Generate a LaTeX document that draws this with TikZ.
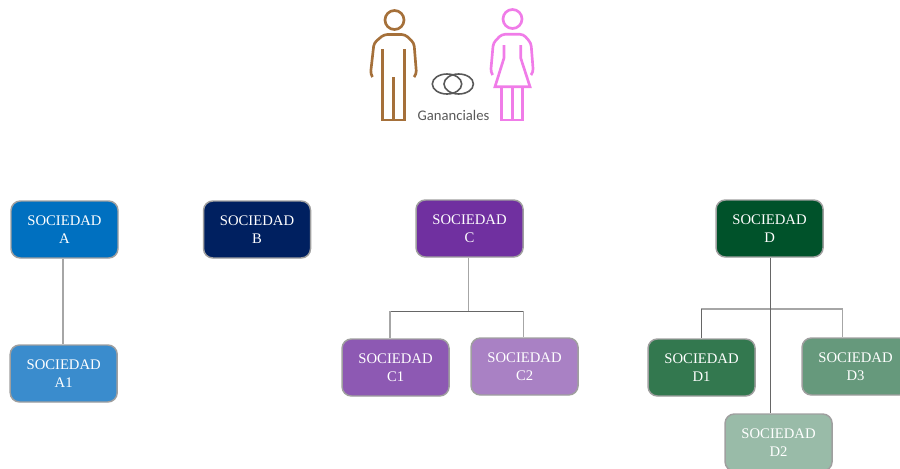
\documentclass[tikz,border=0pt]{standalone}
\usepackage{fontspec}
\setmainfont{Liberation Serif}
\newfontfamily\labelfont{Carlito}
\usepackage[dvipsnames]{xcolor}
\usetikzlibrary{positioning}

\definecolor{colA}{HTML}{0070C0}
\definecolor{colAa}{HTML}{3A8CCD}
\definecolor{colB}{HTML}{002060}
\definecolor{colC}{HTML}{7030A0}
\definecolor{colCa}{HTML}{8D59B3}
\definecolor{colCb}{HTML}{A981C4}
\definecolor{colD}{HTML}{00522A}
\definecolor{colDa}{HTML}{33784F}
\definecolor{colDb}{HTML}{99BBA8}
\definecolor{colDc}{HTML}{66997C}
\definecolor{brownman}{HTML}{A5703A}
\definecolor{pinkwoman}{HTML}{F07CE8}

\tikzset{
  soc/.style={draw=gray!75, line width=1.1pt, rounded corners=7pt, minimum width=80.25pt,
    minimum height=42.75pt, inner sep=0pt, align=center, text=white,
    font=\fontsize{11}{13.9}\selectfont},
  wire/.style={draw=gray!70, line width=.8pt},
  darkwire/.style={draw=black!60, line width=.7pt},
  man/.style={draw=brownman, line width=2pt, rounded corners=2.5pt},
  woman/.style={draw=pinkwoman, line width=2pt, rounded corners=2.5pt},
  rings/.style={draw=black!65, line width=1.2pt}
}

\begin{document}
\begin{tikzpicture}[x=.75pt, y=-.75pt]
        \useasboundingbox (0,0) rectangle (900,468);

        \node[soc, fill=colA] (A) at (64.5,229.5) {SOCIEDAD\\A};
        \node[soc, fill=colAa, below of=A, node distance=108pt, xshift=-.6pt] (A1) {SOCIEDAD\\A1};
        \node[soc, fill=colB, right of=A, node distance=144.4pt] (B) {SOCIEDAD\\B};
        \node[soc, fill=colC, right of=B, node distance=159.4pt, yshift=.75pt] (C) {SOCIEDAD\\C};
        \node[soc, fill=colCa, below of=C, node distance=104.25pt, xshift=-55.5pt] (C1) {SOCIEDAD\\C1};
        \node[soc, fill=colCb, right of=C1, node distance=96.75pt, yshift=.75pt] (C2) {SOCIEDAD\\C2};
        \node[soc, fill=colD, right of=C, node distance=225pt] (D) {SOCIEDAD\\D};
        \node[soc, fill=colDa, below of=D, node distance=104.25pt, xshift=-51pt] (D1) {SOCIEDAD\\D1};
        \node[soc, fill=colDc, right of=D1, node distance=115.5pt, yshift=.75pt] (D3) {SOCIEDAD\\D3};
        \node[soc, fill=colDb, below of=D, node distance=160.5pt, xshift=6.75pt] (D2) {SOCIEDAD\\D2};

        \coordinate (a) at (63,300);
        \coordinate (c) at (468.5,311);
        \coordinate (cl) at (390,311);
        \coordinate (cr) at (523.5,311);
        \coordinate (d) at (770.5,309);
        \coordinate (dl) at (701,309);
        \coordinate (dr) at (842.5,309);

        \draw[wire] (a |- A.south) -- (a |- A1.north);
        \draw[wire] (c |- C.south) -- (c);
        \draw[darkwire] (cl) -- (cr);
        \draw[wire] (cl) -- (cl |- C1.north);
        \draw[wire] (cr) -- (cr |- C2.north);
        \draw[wire] (dl) -- (dr);
        \draw[darkwire] (d |- D.south) -- (d |- D2.north);
        \draw[darkwire] (dl) -- (dl |- D1.north);
        \draw[wire] (dr) -- (dr |- D3.north);

        % figures
        \draw[man] (394.5,20) circle (9.5);
        \draw[man] (372.5,77) -- (370.5,74) -- (374,43) -- (384,34.5) -- (405,34.5) -- (414,43) -- (416.5,74) -- (414,77);
        \draw[man, rounded corners=0pt] (382.5,49) -- (382.5,120) -- (404.5,120) -- (404.5,49);
        \draw[man] (393.5,77) -- (393.5,120);

        \draw[woman] (512.5,19) circle (9.5);
        \draw[woman] (492.7,75) -- (490.7,72) -- (493.3,43) -- (501.7,34.3) -- (523.3,34.3) -- (531,43) -- (533.3,72) -- (531,75);
        \draw[woman, rounded corners=0pt] (504,45) -- (504,58) -- (495,86.7) -- (530,86.7) -- (520.7,58) -- (520.7,45);
        \draw[woman, rounded corners=0pt] (501.7,86.7) -- (501.7,120) -- (522.7,120) -- (522.7,86.7);
        \draw[woman] (512.3,86.7) -- (512.3,120);

        \draw[rings] (447,84) ellipse (14.7 and 10);
        \draw[rings] (458.7,84) ellipse (14.7 and 10);

        \node[text=black!65, font=\labelfont\fontsize{11}{12}\selectfont, inner sep=0pt] (gan) at (453.5,115) {Gananciales};
      \end{tikzpicture}
\end{document}
